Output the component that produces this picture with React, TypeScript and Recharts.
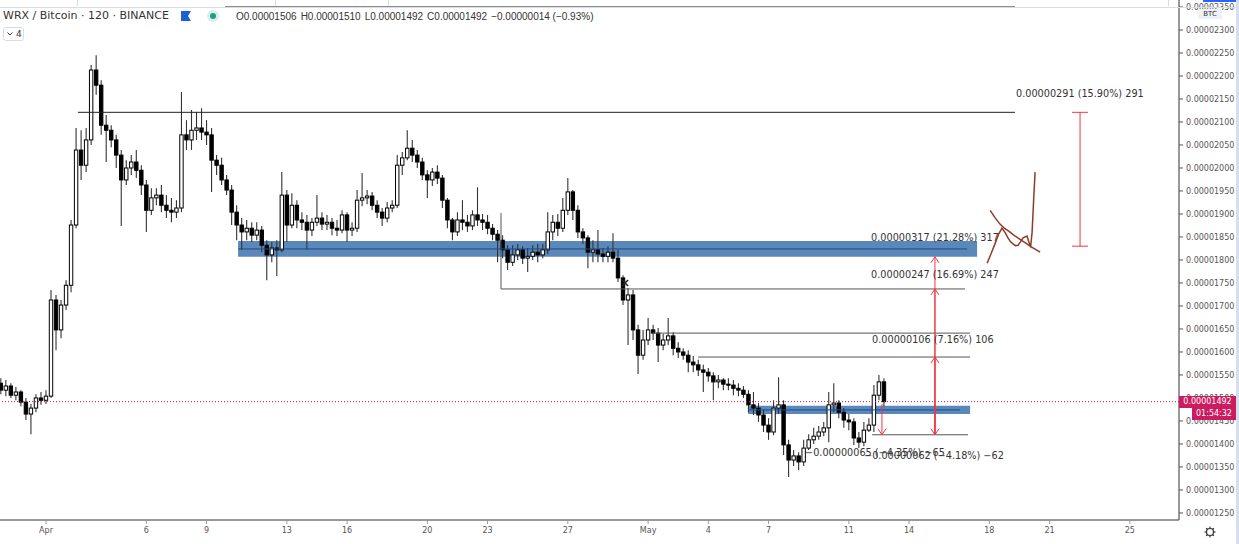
import React from "react"
import {
    ComposedChart, Bar, Scatter, XAxis, YAxis,
    ReferenceLine, ReferenceArea, ReferenceDot,
} from "recharts"

// WRX/BTC, 6h candles, prices in satoshi (1e-8 BTC). Day 0 = Apr 1 00:00
const START_DAY = -2.25
const STEP_DAY = 0.25

const opens = [
    1532, 1517, 1526, 1506, 1513, 1491, 1465, 1478, 1500, 1495,
    1504, 1713, 1648, 1702, 1745, 1876, 2039, 2006, 2061, 2213,
    2180, 2093, 2082, 2061, 2028, 1974, 2000, 2013, 1995, 1963,
    1908, 1935, 1941, 1919, 1908, 1904, 1913, 2072, 2061, 2082,
    2087, 2078, 2072, 2017, 2006, 1974, 1952, 1904, 1876, 1861,
    1869, 1854, 1865, 1832, 1811, 1826, 1822, 1941, 1876, 1919,
    1887, 1882, 1865, 1882, 1891, 1878, 1882, 1869, 1865, 1898,
    1865, 1869, 1930, 1935, 1939, 1919, 1904, 1891, 1913, 1919,
    2006, 2022, 2043, 2028, 2013, 1985, 1974, 1991, 1978, 1930,
    1887, 1861, 1887, 1882, 1874, 1898, 1887, 1882, 1869, 1856,
    1843, 1822, 1795, 1811, 1822, 1804, 1808, 1817, 1811, 1822,
    1861, 1882, 1869, 1908, 1948, 1908, 1861, 1848, 1817, 1822,
    1813, 1808, 1817, 1804, 1761, 1713, 1724, 1648, 1593, 1626,
    1648, 1641, 1615, 1626, 1635, 1608, 1600, 1593, 1578, 1572,
    1561, 1556, 1548, 1535, 1539, 1530, 1528, 1521, 1517, 1508,
    1485, 1478, 1463, 1441, 1426, 1478, 1485, 1398, 1365, 1374,
    1361, 1391, 1409, 1417, 1426, 1435, 1485, 1489, 1469, 1452,
    1448, 1413, 1404, 1430, 1441, 1506, 1535,
]
const highs = [
    1543, 1539, 1532, 1524, 1517, 1500, 1487, 1508, 1513, 1517,
    1735, 1724, 1713, 1756, 1887, 2087, 2082, 2087, 2224, 2245,
    2191, 2115, 2093, 2072, 2039, 2017, 2028, 2039, 2006, 1974,
    1956, 1956, 1963, 1941, 1935, 1930, 2165, 2104, 2126, 2122,
    2130, 2104, 2087, 2028, 2022, 1985, 1963, 1919, 1891, 1887,
    1882, 1882, 1874, 1843, 1839, 1843, 1991, 1952, 1945, 1930,
    1904, 1898, 1891, 1941, 1904, 1898, 1891, 1887, 1908, 1904,
    1882, 1952, 1989, 1952, 1948, 1930, 1913, 1926, 1930, 2028,
    2035, 2082, 2061, 2039, 2022, 1995, 2000, 2006, 1985, 1935,
    1891, 1904, 1930, 1898, 1908, 1958, 1900, 1898, 1878, 1865,
    1854, 1832, 1832, 1835, 1830, 1826, 1832, 1835, 1835, 1904,
    1898, 1900, 1935, 1978, 1952, 1919, 1869, 1854, 1843, 1865,
    1826, 1830, 1858, 1822, 1767, 1739, 1735, 1659, 1648, 1674,
    1659, 1652, 1639, 1674, 1643, 1621, 1608, 1604, 1591, 1583,
    1572, 1565, 1556, 1550, 1543, 1543, 1539, 1532, 1526, 1517,
    1513, 1489, 1474, 1456, 1495, 1545, 1495, 1409, 1387, 1382,
    1409, 1421, 1435, 1439, 1448, 1513, 1532, 1495, 1478, 1465,
    1456, 1426, 1448, 1456, 1528, 1550, 1543,
]
const lows = [
    1508, 1504, 1500, 1495, 1482, 1452, 1421, 1469, 1485, 1487,
    1500, 1604, 1630, 1691, 1730, 1869, 1974, 1991, 2050, 2159,
    2072, 2013, 2045, 2000, 1874, 1963, 1985, 1978, 1941, 1861,
    1898, 1919, 1904, 1891, 1882, 1891, 1904, 2039, 2039, 2061,
    2061, 2050, 1948, 1985, 1963, 1941, 1876, 1843, 1822, 1843,
    1839, 1843, 1817, 1756, 1795, 1765, 1817, 1839, 1869, 1869,
    1865, 1822, 1852, 1874, 1865, 1865, 1854, 1852, 1858, 1839,
    1852, 1861, 1917, 1921, 1908, 1891, 1874, 1882, 1904, 1913,
    1985, 2017, 2013, 2000, 1974, 1935, 1961, 1965, 1913, 1869,
    1843, 1852, 1865, 1861, 1865, 1874, 1865, 1856, 1843, 1795,
    1804, 1778, 1787, 1800, 1791, 1774, 1800, 1795, 1804, 1813,
    1843, 1852, 1861, 1898, 1887, 1848, 1835, 1782, 1795, 1795,
    1795, 1795, 1795, 1752, 1702, 1615, 1626, 1552, 1583, 1615,
    1626, 1578, 1604, 1615, 1593, 1587, 1583, 1556, 1556, 1548,
    1513, 1535, 1495, 1521, 1517, 1517, 1506, 1504, 1500, 1469,
    1463, 1448, 1426, 1409, 1419, 1465, 1376, 1328, 1352, 1343,
    1352, 1387, 1400, 1409, 1417, 1404, 1469, 1456, 1435, 1430,
    1398, 1391, 1395, 1426, 1426, 1495, 1482,
]
const closes = [
    1517, 1526, 1506, 1513, 1491, 1465, 1478, 1500, 1495, 1504,
    1713, 1648, 1702, 1745, 1876, 2039, 2006, 2061, 2213, 2180,
    2093, 2082, 2061, 2028, 1974, 2000, 2013, 1995, 1963, 1908,
    1935, 1941, 1919, 1908, 1904, 1913, 2072, 2061, 2082, 2087,
    2078, 2072, 2017, 2006, 1974, 1952, 1904, 1876, 1861, 1869,
    1854, 1865, 1832, 1811, 1826, 1822, 1941, 1876, 1919, 1887,
    1882, 1865, 1882, 1891, 1878, 1882, 1869, 1865, 1898, 1865,
    1869, 1930, 1935, 1939, 1919, 1904, 1891, 1913, 1919, 2006,
    2022, 2043, 2028, 2013, 1985, 1974, 1991, 1978, 1930, 1887,
    1861, 1887, 1882, 1874, 1898, 1887, 1882, 1869, 1856, 1843,
    1822, 1795, 1811, 1822, 1804, 1808, 1817, 1811, 1822, 1861,
    1882, 1869, 1908, 1948, 1908, 1861, 1848, 1817, 1822, 1813,
    1808, 1817, 1804, 1761, 1713, 1724, 1648, 1593, 1626, 1648,
    1641, 1615, 1626, 1635, 1608, 1600, 1593, 1578, 1572, 1561,
    1556, 1548, 1535, 1539, 1530, 1528, 1521, 1517, 1508, 1485,
    1478, 1463, 1441, 1426, 1478, 1485, 1398, 1365, 1374, 1361,
    1391, 1409, 1417, 1426, 1435, 1485, 1489, 1469, 1452, 1448,
    1413, 1404, 1430, 1441, 1506, 1535, 1492,
]

const dateTicks = [0, 5, 8, 12, 15, 19, 22, 26, 30, 33, 36, 40, 43, 47, 50, 54]
const dateLabels = ["Apr", "6", "9", "13", "16", "20", "23", "27", "May", "4", "7", "11", "14", "18", "21", "25"]
const priceTicks = [
    1250, 1300, 1350, 1400, 1450, 1500, 1550, 1600, 1650, 1700, 1750, 1800,
    1850, 1900, 1950, 2000, 2050, 2100, 2150, 2200, 2250, 2300, 2350,
]

// drawings: horizontal levels [price, fromDay, toDay]
const levels: [number, number, number][] = [
    [2350, 8.92, 48.28],
    [2121, 1.59, 48.28],
    [1737, 22.67, 45.79],
    [1641, 30.19, 46.04],
    [1589, 32.49, 46.04],
    [1420, 41.16, 45.94],
]
// support / resistance zones [low, high, mid, fromDay, toDay]
const zones: [number, number, number, number, number][] = [
    [1807, 1841, 1824, 9.57, 46.39],
    [1465, 1483, 1474, 34.98, 46.04],
]
// measure arrows [day, fromPrice, toPrice]
const arrows: [number, number, number][] = [
    [44.29, 1420, 1807],
    [44.29, 1420, 1737],
    [44.29, 1420, 1589],
    [44.29, 1487, 1420],
    [41.65, 1487, 1420],
]
const measureLabels: [string, number, number][] = [
    ["0.00000291 (15.90%) 291", 48.33, 2163],
    ["0.00000317 (21.28%) 317", 41.11, 1848],
    ["0.00000247 (16.69%) 247", 41.11, 1769],
    ["0.00000106 (7.16%) 106", 41.16, 1628],
    ["\u22120.00000065 (\u22124.35%) \u221265", 37.82, 1382],
    ["\u22120.00000062 (\u22124.18%) \u221262", 40.76, 1374],
]
const scribbleA = {
    days: [47.04, 47.3, 47.53, 47.75, 47.98, 48.25, 48.53, 48.8, 49.03, 49.3, 49.53],
    prices: [1908, 1891, 1878, 1869, 1862, 1853, 1845, 1837, 1830, 1823, 1817],
}
const scribbleB = {
    days: [46.89, 47.1, 47.28, 47.45, 47.63, 47.78, 47.93, 48.05, 48.18, 48.3, 48.43, 48.56, 48.68, 48.88, 49.0, 49.06, 49.13, 49.18, 49.23, 49.28],
    prices: [1793, 1815, 1835, 1855, 1869, 1860, 1848, 1840, 1835, 1831, 1832, 1840, 1848, 1852, 1835, 1830, 1860, 1905, 1950, 1991],
}

const X_DOMAIN: [number, number] = [-2.292, 56.45]
const Y_DOMAIN: [number, number] = [1234.7, 2365.2]
const PLOT_H = 520
const BODY_W = 3.4

const candles = closes.map((c, i) => ({ t: START_DAY + i * STEP_DAY, o: opens[i], h: highs[i], l: lows[i], c }))
const toPts = (s: { days: number[]; prices: number[] }) => s.days.map((t, i) => ({ t, p: s.prices[i] }))
const priceToY = (v: number) => (Y_DOMAIN[1] - v) / (Y_DOMAIN[1] - Y_DOMAIN[0]) * PLOT_H

const fmtPrice = (v: number) => (v / 1e8).toFixed(8)
const RED = "#f23645"
const TAG = "#cc1c5f"
const LAST = closes[closes.length - 1]

function Candle(props: any) {
    const { x, y, width, height, payload } = props
    if (x == null || y == null) return null
    const top = Math.min(y, y + height)
    const h = Math.abs(height)
    const k = payload.h > payload.l ? h / (payload.h - payload.l) : 0
    const bTop = top + (payload.h - Math.max(payload.o, payload.c)) * k
    const bBot = top + (payload.h - Math.min(payload.o, payload.c)) * k
    const cx = x + (width || 0) / 2
    const up = payload.c >= payload.o
    return (
        <g>
            <line x1={cx} x2={cx} y1={top} y2={top + h} stroke="#333" strokeWidth={1.1} />
            <rect x={cx - BODY_W / 2} y={bTop} width={BODY_W} height={Math.max(bBot - bTop, 1)}
                fill={up ? "#fff" : "#000"} stroke="#000" strokeWidth={1} />
        </g>
    )
}

function ArrowShape(p: any) {
    const { x1, y1, x2, y2 } = p
    const d = y2 < y1 ? 1 : -1
    return (
        <g stroke={RED} strokeWidth={1} fill="none">
            <line x1={x1} y1={y1} x2={x2} y2={y2} />
            <polyline points={`${x2 - 4},${y2 + d * 6} ${x2},${y2} ${x2 + 4},${y2 + d * 6}`} />
        </g>
    )
}

function RangeShape(p: any) {
    const { x1, y1, x2, y2 } = p
    return (
        <g stroke={RED} strokeWidth={1}>
            <line x1={x1} y1={y1} x2={x2} y2={y2} />
            <line x1={x1 - 8} y1={y1} x2={x1 + 8} y2={y1} />
            <line x1={x2 - 8} y1={y2} x2={x2 + 8} y2={y2} />
        </g>
    )
}

const NoDot = () => <g />

export default function App() {
    const tagY = priceToY(LAST)
    return (
        <div style={{ position: "relative", width: 1239, height: 544, background: "#fff", overflow: "hidden", fontFamily: "'DejaVu Sans', sans-serif" }}>
            <style>{"body{margin:0}"}</style>
            <ComposedChart width={1239} height={544} data={candles} margin={{ top: 0, right: 0, bottom: 0, left: 0 }}>
                <XAxis dataKey="t" type="number" domain={X_DOMAIN} allowDataOverflow ticks={dateTicks} interval={0}
                    tickFormatter={(v: number) => dateLabels[dateTicks.indexOf(v)] ?? ""}
                    height={24} tickSize={4} tickMargin={3}
                    axisLine={{ stroke: "#333" }} tickLine={{ stroke: "#999" }}
                    tick={{ fontSize: 8, fill: "#555" }} />
                <YAxis orientation="right" type="number" width={60} domain={Y_DOMAIN} allowDataOverflow
                    ticks={priceTicks} interval={0} tickFormatter={fmtPrice}
                    tickSize={4} tickMargin={3}
                    axisLine={{ stroke: "#333" }} tickLine={{ stroke: "#555" }}
                    tick={{ fontSize: 8, fill: "#555", textAnchor: "start" }} />

                <ReferenceLine y={LAST} stroke="#c2185b" strokeDasharray="1 2" strokeWidth={1} />

                <Bar dataKey={(d: any) => [d.l, d.h]} barSize={4} shape={Candle} isAnimationActive={false} />

                {levels.map(([p, a, b], i) => (
                    <ReferenceLine key={"lv" + i} segment={[{ x: a, y: p }, { x: b, y: p }]} stroke={i < 2 ? "#222" : "#555"} strokeWidth={1} />
                ))}
                <ReferenceLine segment={[{ x: 22.67, y: 1737 }, { x: 22.67, y: 1902 }]} stroke="#555" strokeWidth={1} />

                {zones.map(([lo, hi, mid, a, b], i) => (
                    <ReferenceArea key={"zn" + i} x1={a} x2={b} y1={lo} y2={hi} fill="#1c5aa0" fillOpacity={0.72} stroke="none" />
                ))}
                {zones.map(([lo, hi, mid, a, b], i) => (
                    <ReferenceLine key={"zm" + i} segment={[{ x: a, y: mid }, { x: b - 0.5, y: mid }]} stroke="#1d4c82" strokeWidth={1} />
                ))}

                {arrows.map(([d, from, to], i) => (
                    <ReferenceLine key={"ar" + i} segment={[{ x: d, y: from }, { x: d, y: to }]} shape={ArrowShape} />
                ))}
                <ReferenceLine segment={[{ x: 51.52, y: 2121 }, { x: 51.52, y: 1830 }]} shape={RangeShape} />

                {measureLabels.map(([txt, d, p], i) => (
                    <ReferenceDot key={"ml" + i} x={d} y={p} r={1} ifOverflow="visible"
                        shape={(s: any) => (
                            <text x={s.cx} y={s.cy} fontSize={9.7} fill="#333" dominantBaseline="central">{txt}</text>
                        )} />
                ))}
                <ReferenceDot x={28.85} y={1750} r={1}
                    shape={(s: any) => (
                        <g stroke="#222" strokeWidth={1.6}>
                            <line x1={s.cx - 3} y1={s.cy - 3} x2={s.cx + 3} y2={s.cy + 3} />
                            <line x1={s.cx - 3} y1={s.cy + 3} x2={s.cx + 3} y2={s.cy - 3} />
                        </g>
                    )} />

                <Scatter data={toPts(scribbleA)} dataKey="p" shape={NoDot} line={{ stroke: "#8e3b2b", strokeWidth: 1.5 }} lineType="joint" isAnimationActive={false} />
                <Scatter data={toPts(scribbleB)} dataKey="p" shape={NoDot} line={{ stroke: "#8e3b2b", strokeWidth: 1.5 }} lineType="joint" isAnimationActive={false} />
            </ComposedChart>

            {/* last price tag and bar countdown, on top of the price axis */}
            <div style={{ position: "absolute", left: 1179, top: tagY - 6, width: 57, height: 12, background: TAG, color: "#fff", fontSize: 8, lineHeight: "12px", textAlign: "center", whiteSpace: "nowrap" }}>
                {fmtPrice(LAST)}
            </div>
            <div style={{ position: "absolute", left: 1192, top: tagY + 6, width: 44, height: 12, background: TAG, color: "#fff", fontSize: 8, lineHeight: "12px", textAlign: "center", whiteSpace: "nowrap" }}>
                01:54:32
            </div>

            {/* toolbar edge */}
            <div style={{ position: "absolute", left: 0, top: 7, width: 1239, height: 1, background: "#d9dce3" }} />
            {[77, 275, 388, 1168].map(x => (
                <div key={x} style={{ position: "absolute", left: x, top: 0, width: 1, height: 6, background: "#d9dce3" }} />
            ))}
            <div style={{ position: "absolute", left: 1203, top: 0, width: 36, height: 2, background: "#2962ff" }} />
            <div style={{ position: "absolute", right: 0, top: 0, width: 3, height: 544, background: "#d4dff0" }} />

            {/* legend header */}
            <div style={{ position: "absolute", left: 3, top: 9, fontSize: 11, lineHeight: "14px", color: "#333", whiteSpace: "nowrap" }}>
                WRX / Bitcoin · 120 · BINANCE
            </div>
            <svg style={{ position: "absolute", left: 181, top: 11 }} width={10} height={10}>
                <path d="M0 0 H10 L7 5 L10 10 H0 Z" fill="#1e5fd6" />
            </svg>
            <svg style={{ position: "absolute", left: 206, top: 9 }} width={14} height={14}>
                <circle cx={7} cy={7} r={6} fill="#d7f0ec" />
                <circle cx={7} cy={7} r={3} fill="#1e9e86" />
            </svg>
            <div style={{ position: "absolute", left: 236, top: 10, fontSize: 10, lineHeight: "13px", color: "#333", whiteSpace: "nowrap", fontFamily: "'Liberation Sans', Arial, sans-serif" }}>
                {["O0.00001506", "H0.00001510", "L0.00001492", "C0.00001492", "\u22120.00000014 (\u22120.93%)"].map(s => (
                    <span key={s} style={{ marginRight: 4 }}>{s}</span>
                ))}
            </div>
            <div style={{ position: "absolute", left: 3, top: 27, width: 21, height: 14, border: "1px solid #d9dce3", borderRadius: 3, fontSize: 9, color: "#333", display: "flex", alignItems: "center", gap: 3, paddingLeft: 3, boxSizing: "border-box" }}>
                <svg width={6} height={4}><polyline points="0.5,0.5 3,3 5.5,0.5" fill="none" stroke="#333" strokeWidth={1} /></svg>
                <span>4</span>
            </div>

            {/* axis unit + settings */}
            <div style={{ position: "absolute", left: 1198, top: 9, width: 24, height: 10, background: "#eef1f6", fontSize: 7, lineHeight: "10px", textAlign: "center", color: "#333" }}>BTC</div>
            <svg style={{ position: "absolute", left: 1202, top: 524 }} width={16} height={16}>
                <g stroke="#333" strokeWidth={1.2} fill="none">
                    <circle cx={8} cy={8} r={3.5} />
                    {[0, 45, 90, 135, 180, 225, 270, 315].map(a => (
                        <line key={a} x1={8 + 3.5 * Math.cos(a * Math.PI / 180)} y1={8 + 3.5 * Math.sin(a * Math.PI / 180)}
                            x2={8 + 5.5 * Math.cos(a * Math.PI / 180)} y2={8 + 5.5 * Math.sin(a * Math.PI / 180)} />
                    ))}
                </g>
            </svg>
        </div>
    )
}
